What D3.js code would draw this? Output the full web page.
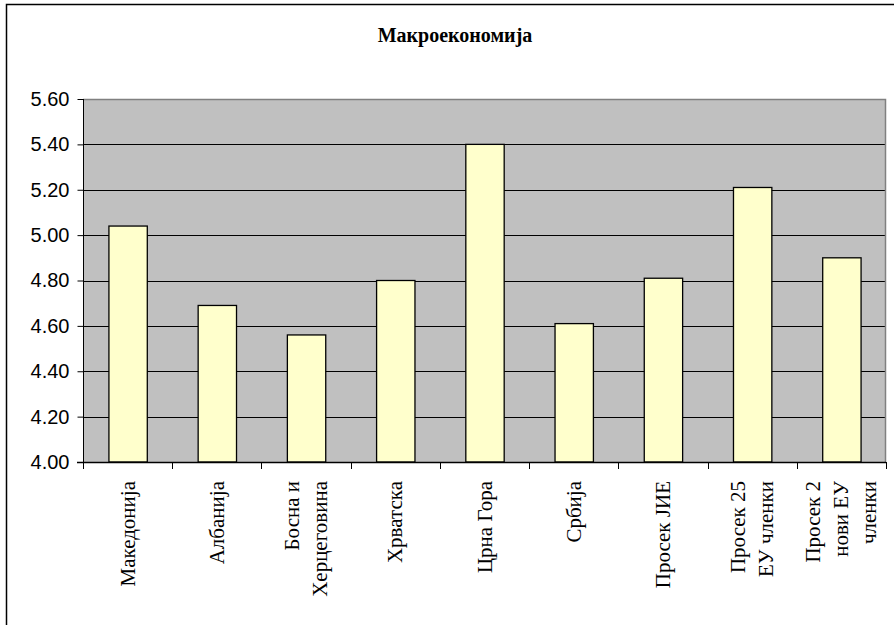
<!DOCTYPE html>
<html>
<head>
<meta charset="utf-8">
<script src="https://cdn.jsdelivr.net/npm/d3@7"></script>
<style>
  html, body { margin: 0; padding: 0; background: #fff; }
  svg { display: block; }
</style>
</head>
<body>
<svg id="chart" width="894" height="625"></svg>
<script>
const title = "Макроекономија";
const categories = [
  ["Македонија"],
  ["Албанија"],
  ["Босна и", "Херцеговина"],
  ["Хрватска"],
  ["Црна Гора"],
  ["Србија"],
  ["Просек ЈИЕ"],
  ["Просек 25", "ЕУ членки"],
  ["Просек 2", "нови ЕУ", "членки"]
];
const values = [5.04, 4.69, 4.56, 4.80, 5.40, 4.61, 4.81, 5.21, 4.90];
const yTicks = [4.00, 4.20, 4.40, 4.60, 4.80, 5.00, 5.20, 5.40, 5.60];

const svg = d3.select("#chart");
const plot = { left: 83, right: 886, top: 99, bottom: 462 };
const serif = "'Liberation Serif', 'Times New Roman', Times, serif";

// outer chart border (extends past the picture at right/bottom)
svg.append("rect")
  .attr("x", 6.5).attr("y", 4.5)
  .attr("width", 920).attr("height", 700)
  .attr("fill", "#fff").attr("stroke", "#000").attr("stroke-width", 1.5);

// title
svg.append("text")
  .attr("x", 455).attr("y", 42)
  .attr("text-anchor", "middle")
  .style("font-family", serif)
  .attr("font-weight", "bold")
  .attr("font-size", 20)
  .text(title);

const ids = categories.map((c, i) => i);
const x = d3.scaleBand().domain(ids).range([plot.left, plot.right]).padding(0);
const y = d3.scaleLinear().domain([4.0, 5.6]).range([plot.bottom, plot.top]);

// plot background
svg.append("rect")
  .attr("x", plot.left).attr("y", plot.top)
  .attr("width", plot.right - plot.left).attr("height", plot.bottom - plot.top)
  .attr("fill", "#C0C0C0");

// gridlines
svg.append("g").selectAll("line")
  .data(yTicks.filter(t => t > 4.0 && t < 5.6))
  .join("line")
  .attr("x1", plot.left).attr("x2", plot.right)
  .attr("y1", d => Math.round(y(d)) + 0.5).attr("y2", d => Math.round(y(d)) + 0.5)
  .attr("stroke", "#000").attr("stroke-width", 1);

// plot border (top/right grey)
svg.append("path")
  .attr("d", `M${plot.left},${plot.top + 0.5}H${plot.right - 0.5}V${plot.bottom}`)
  .attr("fill", "none").attr("stroke", "#808080").attr("stroke-width", 1.5);

// bars
const barW = x.bandwidth() * 0.43;
svg.append("g").selectAll("rect")
  .data(values)
  .join("rect")
  .attr("x", (d, i) => x(i) + x.bandwidth() / 2 - barW / 2 + 0.5)
  .attr("y", d => y(d))
  .attr("width", barW)
  .attr("height", d => plot.bottom - y(d))
  .attr("fill", "#FFFFCC")
  .attr("stroke", "#000").attr("stroke-width", 1.3);

// y axis
const yAxis = d3.axisLeft(y).tickValues(yTicks).tickSize(6).tickPadding(8)
  .tickFormat(d3.format(".2f"));
const gy = svg.append("g").attr("transform", `translate(${plot.left + 0.5},0)`).call(yAxis);
gy.select(".domain").attr("stroke", "#000").attr("d", `M0,${plot.top}V${plot.bottom}`);
gy.selectAll(".tick line").attr("stroke", "#000");
gy.selectAll(".tick text")
  .attr("font-family", "'Liberation Sans', Arial, sans-serif")
  .attr("font-size", 20)
  .attr("fill", "#000");

// x axis line and ticks at category boundaries
const gx = svg.append("g");
gx.append("line")
  .attr("x1", plot.left - 6).attr("x2", plot.right)
  .attr("y1", plot.bottom + 0.5).attr("y2", plot.bottom + 0.5)
  .attr("stroke", "#000").attr("stroke-width", 1.3);
gx.selectAll("line.tk")
  .data(ids.map(i => x(i)).concat([plot.right]))
  .join("line").attr("class", "tk")
  .attr("x1", d => Math.round(d) + 0.5).attr("x2", d => Math.round(d) + 0.5)
  .attr("y1", plot.bottom).attr("y2", plot.bottom + 7)
  .attr("stroke", "#000");

// x labels (rotated, multi-line)
const lineGap = 28;
const labelTop = 481;
categories.forEach((lines, i) => {
  const cx = x(i) + x.bandwidth() / 2;
  const n = lines.length;
  lines.forEach((ln, j) => {
    const bx = cx + (j - (n - 1) / 2) * lineGap + 7;
    svg.append("text")
      .attr("transform", `translate(${bx},${labelTop}) rotate(-90)`)
      .attr("text-anchor", "end")
      .style("font-family", serif)
      .attr("font-size", 21)
      .attr("fill", "#000")
      .text(ln);
  });
});
</script>
</body>
</html>
